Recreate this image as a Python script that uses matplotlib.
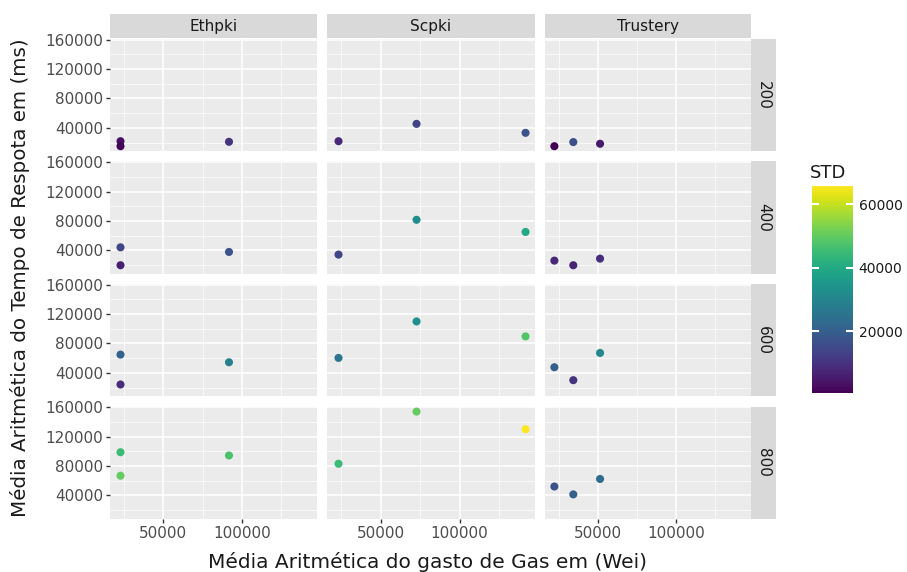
import matplotlib
matplotlib.use("Agg")
import matplotlib.pyplot as plt
from matplotlib.colors import Normalize
from matplotlib.cm import ScalarMappable

contracts = ["Ethpki", "Scpki", "Trustery"]
loads = ["200", "400", "600", "800"]

# mean gas per contract (same three operations for every load)
ethpki_gas = [22800, 22800, 91800]
scpki_gas = [23400, 72800, 141800]
trustery_gas = [22100, 34200, 51300]

# mean response time (ms), one row per load
ethpki_time = [[21800, 15000, 21000],
               [44100, 19700, 37800],
               [64800, 24100, 54400],
               [98700, 66700, 94300]]
scpki_time = [[21800, 45400, 33200],
              [34200, 81600, 65000],
              [60300, 110000, 89600],
              [83000, 154000, 130000]]
trustery_time = [[15000, 20600, 18300],
                 [26000, 19700, 28700],
                 [47600, 30000, 67100],
                 [52000, 41300, 62300]]

# standard deviation of response time
ethpki_std = [[3000, 1000, 10000],
              [14000, 6000, 17000],
              [21000, 9000, 29000],
              [45000, 50000, 47000]]
scpki_std = [[8000, 14000, 17000],
             [14000, 32000, 40000],
             [26000, 33000, 48000],
             [45000, 50000, 65800]]
trustery_std = [[500, 16000, 5000],
                [8000, 7000, 9000],
                [20000, 10000, 31000],
                [17000, 20000, 23000]]

gas = [ethpki_gas, scpki_gas, trustery_gas]
times = [ethpki_time, scpki_time, trustery_time]
stds = [ethpki_std, scpki_std, trustery_std]

W, H = 907, 572
fig = plt.figure(figsize=(W / 100, H / 100), dpi=100)
fig.patch.set_facecolor("white")


def box(x0, y0, x1, y1):
    return [x0 / W, 1 - y1 / H, (x1 - x0) / W, (y1 - y0) / H]


all_std = [v for s in stds for row in s for v in row]
norm = Normalize(vmin=min(all_std), vmax=max(all_std))
cmap = plt.get_cmap("viridis")

all_x = [v for g in gas for v in g]
all_y = [v for t in times for row in t for v in row]
xpad = (max(all_x) - min(all_x)) * 0.05
ypad = (max(all_y) - min(all_y)) * 0.05
xlim = (min(all_x) - xpad, max(all_x) + xpad)
ylim = (min(all_y) - ypad, max(all_y) + ypad)

col_x = [(110, 317), (327, 535), (545, 751)]
row_top = 39
row_h = 112.3
row_gap = 10.2

for c, name in enumerate(contracts):
    x0, x1 = col_x[c]
    # strip on top
    sax = fig.add_axes(box(x0, 14, x1, 38))
    sax.set_facecolor("#d9d9d9")
    sax.set_xticks([])
    sax.set_yticks([])
    for sp in sax.spines.values():
        sp.set_visible(False)
    sax.text(0.5, 0.5, name, ha="center", va="center", fontsize=11,
             color="#1a1a1a", transform=sax.transAxes)

    for r, load in enumerate(loads):
        y0 = row_top + r * (row_h + row_gap)
        y1 = y0 + row_h
        ax = fig.add_axes(box(x0, y0, x1, y1))
        ax.set_facecolor("#ebebeb")
        ax.scatter(gas[c], times[c][r], c=stds[c][r], cmap=cmap, norm=norm,
                   s=34, linewidths=0, zorder=3)
        ax.set_xlim(*xlim)
        ax.set_ylim(*ylim)
        ax.set_xticks([50000, 100000])
        ax.set_xticks([25000, 75000, 125000], minor=True)
        ax.set_yticks([40000, 80000, 120000, 160000])
        ax.set_yticks([20000, 60000, 100000, 140000], minor=True)
        ax.grid(True, which="major", color="white", linewidth=1.1)
        ax.grid(True, which="minor", color="white", linewidth=0.5)
        ax.set_axisbelow(True)
        for sp in ax.spines.values():
            sp.set_visible(False)
        ax.tick_params(which="minor", length=0)
        ax.tick_params(which="major", length=3, width=1, color="#333333",
                       labelcolor="#4d4d4d", labelsize=11, pad=2)
        if c != 0:
            ax.tick_params(axis="y", left=False, labelleft=False)
        if r != len(loads) - 1:
            ax.tick_params(axis="x", bottom=False, labelbottom=False)

        if c == len(contracts) - 1:
            rax = fig.add_axes(box(x1, y0, x1 + 25, y1))
            rax.set_facecolor("#d9d9d9")
            rax.set_xticks([])
            rax.set_yticks([])
            for sp in rax.spines.values():
                sp.set_visible(False)
            rax.text(0.5, 0.5, load, ha="center", va="center", fontsize=11,
                     color="#1a1a1a", rotation=-90, transform=rax.transAxes)

# axis titles
fig.text(428 / W, 1 - 562 / H, "Média Aritmética do gasto de Gas em (Wei)",
         ha="center", va="center", fontsize=14.5, color="#1a1a1a")
fig.text(20 / W, 1 - 278 / H, "Média Aritmética do Tempo de Respota em (ms)",
         ha="center", va="center", fontsize=14.3, color="#1a1a1a",
         rotation=90)

# colour legend
cax = fig.add_axes(box(812, 186, 853, 393))
cb = fig.colorbar(ScalarMappable(norm=norm, cmap=cmap), cax=cax)
cb.outline.set_visible(False)
cb.set_ticks([20000, 40000, 60000])
cax.tick_params(direction="in", length=5, width=1.5, color="white",
                left=True, right=True, labelsize=10, labelcolor="#1a1a1a",
                pad=4)
fig.text(810 / W, 1 - 173 / H, "STD", ha="left", va="center", fontsize=13,
         color="#1a1a1a")

fig.savefig("out.png", dpi=100)
